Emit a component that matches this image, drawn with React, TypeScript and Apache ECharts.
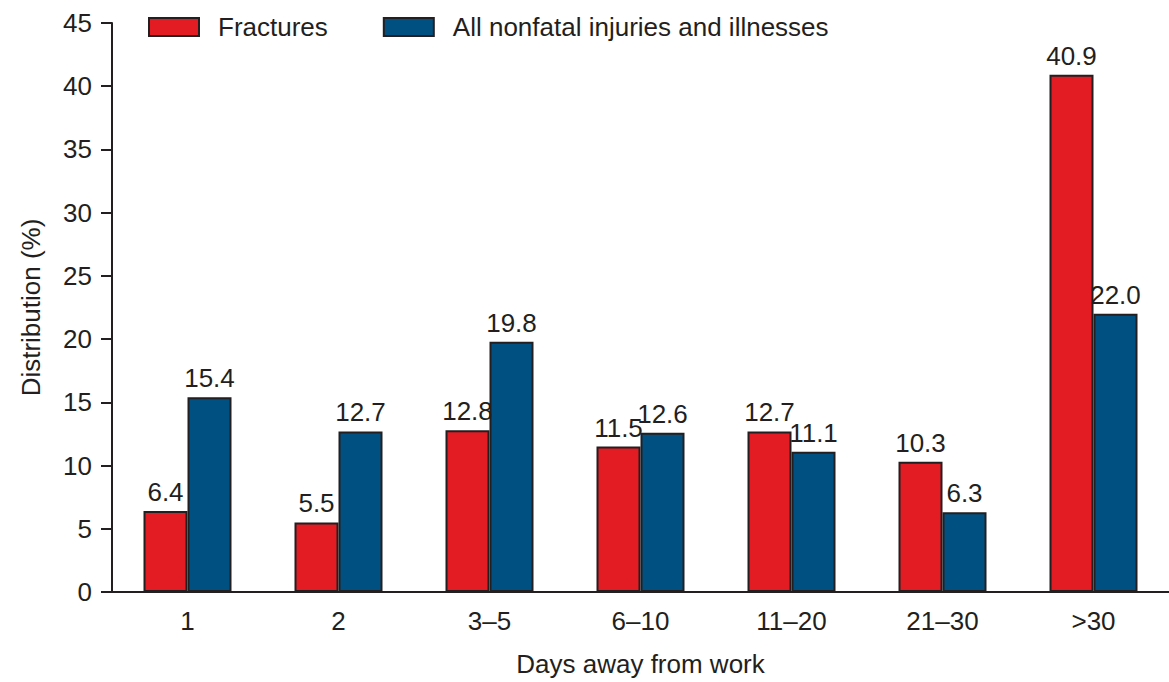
import React, { useEffect, useRef } from "react";
import * as echarts from "echarts";

const categories = ["1", "2", "3–5", "6–10", "11–20", "21–30", ">30"];
const fractures = [6.4, 5.5, 12.8, 11.5, 12.7, 10.3, 40.9];
const allInjuries = [15.4, 12.7, 19.8, 12.6, 11.1, 6.3, 22.0];
const seriesNames = ["Fractures", "All nonfatal injuries and illnesses"];

const FONT = "'Liberation Sans', Arial, Helvetica, sans-serif";
const TEXT = "#231f20";
const FS = 26;

export default function App() {
  const ref = useRef<HTMLDivElement>(null);
  useEffect(() => {
    const chart = echarts.init(ref.current!, null, { renderer: "svg" });
    const label = {
      show: true,
      position: "top",
      distance: 6,
      color: TEXT,
      fontSize: FS,
      fontFamily: FONT,
      formatter: (p: any) => Number(p.value).toFixed(1),
    };
    chart.setOption({
      animation: false,
      backgroundColor: "#ffffff",
      textStyle: { fontFamily: FONT, color: TEXT },
      legend: {
        top: 14,
        left: 148,
        padding: 0,
        itemWidth: 50,
        itemHeight: 18,
        itemGap: 55,
        icon: "rect",
        textStyle: { fontSize: FS, color: TEXT, fontFamily: FONT, padding: [0, 0, 0, 14] },
        data: seriesNames,
      },
      grid: { left: 112, right: 0, top: 23, bottom: 86, containLabel: false },
      xAxis: {
        type: "category",
        data: categories,
        axisLine: { lineStyle: { color: TEXT, width: 2 } },
        axisTick: { show: false },
        axisLabel: { fontSize: FS, color: TEXT, margin: 16, fontFamily: FONT },
        name: "Days away from work",
        nameLocation: "middle",
        nameGap: 59,
        nameTextStyle: { fontSize: FS, color: TEXT, fontFamily: FONT },
      },
      yAxis: {
        type: "value",
        min: 0,
        max: 45,
        interval: 5,
        axisLine: { show: true, lineStyle: { color: TEXT, width: 2 } },
        axisTick: { show: true, length: 11, lineStyle: { color: TEXT, width: 2 } },
        axisLabel: { fontSize: FS, color: TEXT, margin: 20, fontFamily: FONT },
        splitLine: { show: false },
        name: "Distribution (%)",
        nameLocation: "middle",
        nameGap: 68,
        nameTextStyle: { fontSize: FS, color: TEXT, fontFamily: FONT },
      },
      series: [
        {
          name: seriesNames[0],
          type: "bar",
          data: fractures,
          barWidth: 44,
          barGap: "0%",
          itemStyle: { color: "#e31b23", borderColor: TEXT, borderWidth: 2 },
          label,
        },
        {
          name: seriesNames[1],
          type: "bar",
          data: allInjuries,
          barWidth: 44,
          barGap: "0%",
          itemStyle: { color: "#005182", borderColor: TEXT, borderWidth: 2 },
          label,
        },
      ],
    });
    return () => chart.dispose();
  }, []);
  return (
    <div
      ref={ref}
      style={{ position: "fixed", left: 0, top: 0, width: 1169, height: 682 }}
    />
  );
}
